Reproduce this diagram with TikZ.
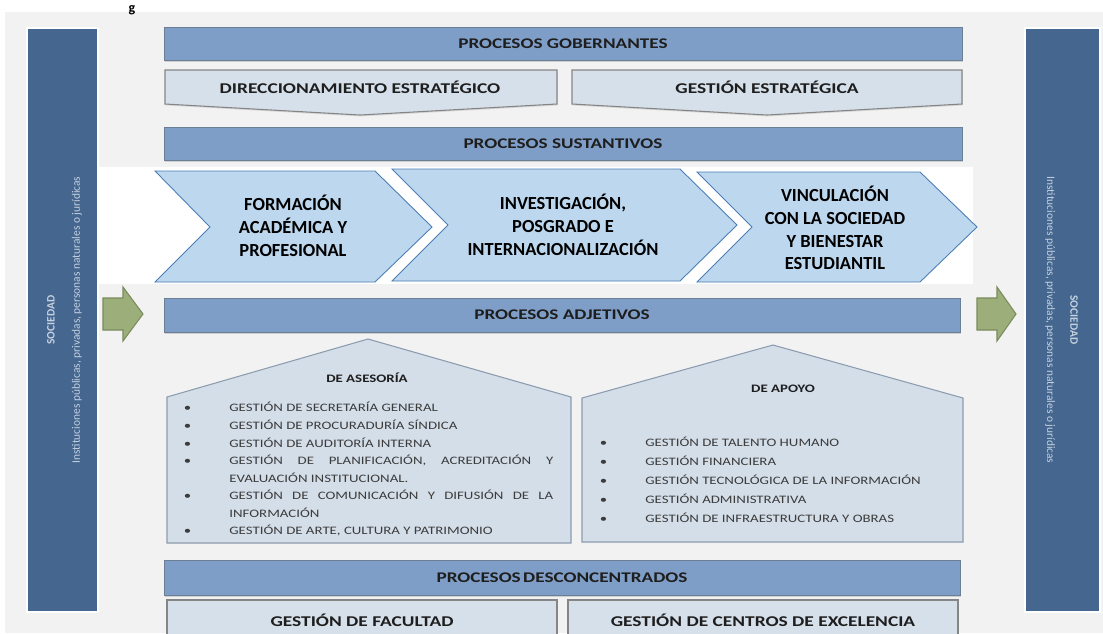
\documentclass[tikz,border=0pt]{standalone}
\usepackage{fontspec}
\setmainfont{Carlito}[FakeStretch=1.3]
\newfontfamily\plainfont{Carlito}
\usetikzlibrary{shadows}

\definecolor{paper}{HTML}{F2F2F2}
\definecolor{sideblue}{HTML}{44668F}
\definecolor{sidetxt}{HTML}{C5D1E0}
\definecolor{hdrblue}{HTML}{7F9EC7}
\definecolor{hdredge}{HTML}{6A7E96}
\definecolor{boxfill}{HTML}{D6E0EB}
\definecolor{boxedge}{HTML}{858585}
\definecolor{housefill}{HTML}{D4DEE9}
\definecolor{houseedge}{HTML}{8C9CAF}
\definecolor{chevfill}{HTML}{BDD7EE}
\definecolor{chevedge}{HTML}{4A7EB5}
\definecolor{greenfill}{HTML}{9CAE79}
\definecolor{greenedge}{HTML}{7A8B5D}
\definecolor{inktext}{HTML}{1E1E1E}
\definecolor{itemtext}{HTML}{3C3C3C}

% list used inside the two houses
\newenvironment{proclist}{\hyphenpenalty=10000\exhyphenpenalty=10000
  \begin{list}{\textbullet}{\setlength{\leftmargin}{1.06cm}\setlength{\labelwidth}{0.3cm}%
  \setlength{\labelsep}{0.76cm}\setlength{\itemsep}{0pt}\setlength{\parsep}{0pt}%
  \setlength{\topsep}{0pt}\setlength{\partopsep}{0pt}}}{\end{list}}

\begin{document}
\begin{tikzpicture}[x=0.02cm, y=-0.02cm,
  hdr/.style = {draw=hdredge, fill=hdrblue, line width=0.5pt, drop shadow={shadow xshift=0.3pt, shadow yshift=-0.9pt, opacity=0.3}},
  hdrlabel/.style = {text=inktext, font=\bfseries\fontsize{8.4}{9}\selectfont},
  sidebar/.style = {draw=white, line width=1pt, fill=sideblue},
  sidehead/.style = {text=sidetxt, font=\plainfont\bfseries\fontsize{6.5}{8}\selectfont},
  sidebody/.style = {text=sidetxt, font=\plainfont\fontsize{6.5}{8}\selectfont},
  downbox/.style = {draw=boxedge, fill=boxfill, line width=0.6pt, drop shadow={shadow xshift=0.3pt, shadow yshift=-0.8pt, opacity=0.25}},
  boxlabel/.style = {text=inktext, font=\bfseries\fontsize{8.5}{10}\selectfont},
  chev/.style = {draw=chevedge, fill=chevfill, line width=0.5pt},
  chevlabel/.style = {align=center, text=black, font=\plainfont\bfseries\fontsize{10.5}{13}\selectfont},
  house/.style = {draw=houseedge, fill=housefill, line width=0.6pt},
  househead/.style = {text=inktext, font=\bfseries\fontsize{6.5}{8}\selectfont},
  itemlist/.style = {anchor=north west, inner sep=0pt, align=justify, text=itemtext, font=\fontsize{6.5}{10}\selectfont},
  flow/.style = {draw=greenedge, fill=greenfill, line width=0.6pt}]
\useasboundingbox (0,0) rectangle (1103,633);
\clip (0,0) rectangle (1103,633);
\fill[paper] (5,12) rectangle (1103,633);
\node[anchor=south, inner sep=0pt, font=\plainfont\bfseries\fontsize{8}{8}\selectfont] (capg) at (132,15) {g};

% sociedad
\draw[sidebar] (27,28) rectangle (98,612);
\draw[sidebar] (1025,28) rectangle (1100,612);
\node[sidehead, rotate=90] (lefthead) at (51,320) {SOCIEDAD};
\node[sidebody, rotate=90] (leftbody) at (77,320) {Instituciones públicas, privadas, personas naturales o jurídicas};
\node[sidehead, rotate=-90] (righthead) at (1074,320) {SOCIEDAD};
\node[sidebody, rotate=-90] (rightbody) at (1050,320) {Instituciones públicas, privadas, personas naturales o jurídicas};
\draw[flow] (103,298) -- (123,298) -- (123,287) -- (143,314) -- (123,341) -- (123,330) -- (103,330) -- cycle;
\draw[flow] (977,298) -- (997,298) -- (997,287) -- (1016,314) -- (997,341) -- (997,330) -- (977,330) -- cycle;

% gobernantes
\draw[hdr] (164,27) rectangle (962,60) node[midway, hdrlabel] (gob) {PROCESOS GOBERNANTES};
\draw[downbox] (165,70) -- (557,70) -- (557,104) -- (360,115) -- (165,104) -- cycle;
\node[boxlabel] (dir) at (360,87) {DIRECCIONAMIENTO ESTRATÉGICO};
\draw[downbox] (572,70) -- (962,70) -- (962,104) -- (767,115) -- (572,104) -- cycle;
\node[boxlabel] (gest) at (767,87) {GESTIÓN ESTRATÉGICA};

% sustantivos
\draw[hdr] (164,127) rectangle (962,160) node[midway, hdrlabel] (sus) {PROCESOS SUSTANTIVOS};
\fill[white] (98,167) rectangle (973,284);
\draw[chev] (155,171) -- (375,171) -- (432,227) -- (375,282) -- (155,282) -- (210,227) -- cycle;
\draw[chev] (392,169) -- (680,169) -- (737,225) -- (680,281) -- (392,281) -- (448,225) -- cycle;
\draw[chev] (697,172) -- (920,172) -- (977,227) -- (920,282) -- (697,282) -- (752,227) -- cycle;
\node[chevlabel] (form) at (293,226) {FORMACIÓN\\ACADÉMICA Y\\PROFESIONAL};
\node[chevlabel] (inv) at (563,225) {INVESTIGACIÓN,\\POSGRADO E\\INTERNACIONALIZACIÓN};
\node[chevlabel] (vinc) at (835,228) {VINCULACIÓN\\CON LA SOCIEDAD\\Y BIENESTAR\\ESTUDIANTIL};

% adjetivos
\draw[hdr] (164,298) rectangle (960,332) node[midway, hdrlabel] (adj) {PROCESOS ADJETIVOS};
\draw[house] (167,543) -- (167,397) -- (368,339) -- (571,397) -- (571,543) -- cycle;
\draw[house] (582,542) -- (582,398) -- (773,345) -- (963,398) -- (963,542) -- cycle;
\node[househead] (ases) at (367,378) {DE ASESORÍA};
\node[househead] (apoyo) at (783,389) {DE APOYO};
\node[itemlist, text width=7.54cm] (aselist) at (176,394) {\begin{proclist}
  \item GESTIÓN DE SECRETARÍA GENERAL
  \item GESTIÓN DE PROCURADURÍA SÍNDICA
  \item GESTIÓN DE AUDITORÍA INTERNA
  \item GESTIÓN DE PLANIFICACIÓN, ACREDITACIÓN Y EVALUACIÓN INSTITUCIONAL.
  \item GESTIÓN DE COMUNICACIÓN Y DIFUSIÓN DE LA INFORMACIÓN
  \item GESTIÓN DE ARTE, CULTURA Y PATRIMONIO
\end{proclist}};
\node[itemlist, text width=7.26cm, font=\fontsize{6.5}{10.8}\selectfont] (apolist) at (592,427) {\begin{proclist}
  \item GESTIÓN DE TALENTO HUMANO
  \item GESTIÓN FINANCIERA
  \item GESTIÓN TECNOLÓGICA DE LA INFORMACIÓN
  \item GESTIÓN ADMINISTRATIVA
  \item GESTIÓN DE INFRAESTRUCTURA Y OBRAS
\end{proclist}};

% desconcentrados
\draw[hdr] (164,560) rectangle (960,595) node[midway, hdrlabel] (desc) {PROCESOS\,DESCONCENTRADOS};
\draw[downbox] (167,600) rectangle (557,645);
\draw[downbox] (568,600) rectangle (958,645);
\node[boxlabel] (fac) at (362,620) {GESTIÓN DE FACULTAD};
\node[boxlabel] (cen) at (763,620) {GESTIÓN DE CENTROS DE EXCELENCIA};
\end{tikzpicture}
\end{document}
